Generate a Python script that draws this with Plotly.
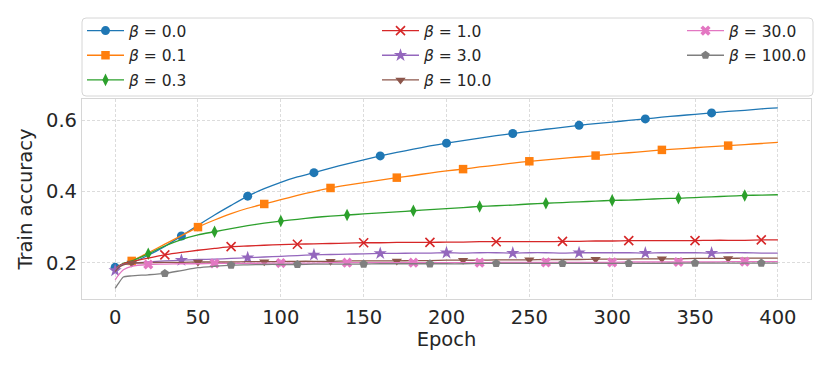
import plotly.graph_objects as go

epochs = [0, 2, 5] + list(range(10, 401, 10))

betas = ["0.0", "0.1", "0.3", "1.0", "3.0", "10.0", "30.0", "100.0"]

acc_b0 = [0.187, 0.190, 0.195, 0.200, 0.221, 0.246, 0.275, 0.305, 0.334, 0.361, 0.387,
          0.408, 0.426, 0.441, 0.453, 0.466, 0.478, 0.489, 0.500, 0.510, 0.519, 0.528,
          0.536, 0.543, 0.550, 0.557, 0.563, 0.569, 0.575, 0.580, 0.586, 0.591, 0.595,
          0.600, 0.604, 0.609, 0.613, 0.617, 0.621, 0.625, 0.628, 0.632, 0.635]
acc_b01 = [0.183, 0.190, 0.197, 0.205, 0.228, 0.252, 0.276, 0.300, 0.320, 0.338, 0.353,
           0.365, 0.377, 0.389, 0.400, 0.410, 0.418, 0.425, 0.432, 0.439, 0.445, 0.452,
           0.458, 0.463, 0.469, 0.474, 0.480, 0.485, 0.489, 0.493, 0.497, 0.501, 0.505,
           0.509, 0.513, 0.517, 0.520, 0.523, 0.526, 0.529, 0.532, 0.535, 0.538]
acc_b03 = [0.180, 0.190, 0.198, 0.205, 0.225, 0.247, 0.265, 0.278, 0.287, 0.296, 0.304,
           0.311, 0.317, 0.322, 0.327, 0.331, 0.334, 0.337, 0.340, 0.343, 0.346, 0.349,
           0.352, 0.355, 0.358, 0.360, 0.362, 0.365, 0.367, 0.369, 0.371, 0.373, 0.375,
           0.376, 0.378, 0.380, 0.381, 0.383, 0.385, 0.387, 0.389, 0.390, 0.391]
acc_b1 = [0.180, 0.190, 0.197, 0.203, 0.213, 0.222, 0.229, 0.235, 0.240, 0.245, 0.247,
          0.249, 0.251, 0.252, 0.253, 0.254, 0.255, 0.256, 0.256, 0.257, 0.257, 0.257,
          0.258, 0.258, 0.259, 0.259, 0.259, 0.259, 0.259, 0.260, 0.260, 0.261, 0.261,
          0.262, 0.262, 0.262, 0.262, 0.262, 0.263, 0.263, 0.263, 0.264, 0.264]
acc_b3 = [0.178, 0.188, 0.195, 0.198, 0.202, 0.205, 0.207, 0.209, 0.210, 0.212, 0.214,
          0.216, 0.218, 0.220, 0.222, 0.223, 0.224, 0.225, 0.226, 0.226, 0.227, 0.227,
          0.228, 0.227, 0.228, 0.228, 0.227, 0.228, 0.228, 0.227, 0.228, 0.228, 0.228,
          0.228, 0.227, 0.228, 0.228, 0.228, 0.227, 0.228, 0.228, 0.227, 0.227]
acc_b10 = [0.175, 0.186, 0.194, 0.199, 0.200, 0.201, 0.201, 0.202, 0.202, 0.202, 0.203,
           0.203, 0.203, 0.204, 0.204, 0.204, 0.205, 0.205, 0.205, 0.205, 0.206, 0.206,
           0.207, 0.207, 0.207, 0.208, 0.208, 0.208, 0.209, 0.209, 0.209, 0.210, 0.210,
           0.210, 0.211, 0.211, 0.211, 0.212, 0.212, 0.212, 0.213, 0.213, 0.213]
acc_b30 = [0.152, 0.165, 0.180, 0.190, 0.195, 0.196, 0.197, 0.197, 0.198, 0.198, 0.198,
           0.199, 0.199, 0.199, 0.199, 0.200, 0.200, 0.200, 0.200, 0.200, 0.200, 0.200,
           0.200, 0.200, 0.200, 0.201, 0.201, 0.201, 0.201, 0.201, 0.201, 0.201, 0.201,
           0.202, 0.202, 0.202, 0.202, 0.202, 0.202, 0.203, 0.203, 0.203, 0.203]
acc_b100 = [0.128, 0.142, 0.160, 0.163, 0.166, 0.170, 0.178, 0.186, 0.190, 0.193, 0.194,
            0.195, 0.195, 0.195, 0.196, 0.196, 0.196, 0.196, 0.197, 0.197, 0.197, 0.197,
            0.197, 0.197, 0.198, 0.198, 0.198, 0.198, 0.198, 0.198, 0.198, 0.198, 0.198,
            0.198, 0.198, 0.198, 0.199, 0.199, 0.199, 0.199, 0.199, 0.199, 0.199]

series = [acc_b0, acc_b01, acc_b03, acc_b1, acc_b3, acc_b10, acc_b30, acc_b100]

colors = ["#1f77b4", "#ff7f0e", "#2ca02c", "#d62728",
          "#9467bd", "#8c564b", "#e377c2", "#7f7f7f"]
symbols = ["circle", "square", "diamond-tall", "x-thin",
           "star", "triangle-down", "x", "pentagon"]
sizes = [9, 8.5, 9, 9, 10, 9, 9, 9]
# which legend column each entry goes in (matplotlib ncol=3, filled column-wise)
legend_cols = ["legend", "legend", "legend", "legend2", "legend2", "legend2", "legend3", "legend3"]

fig = go.Figure()

for i, (b, ys) in enumerate(zip(betas, series)):
    name = f"<i>β</i> = {b}"
    grp = f"g{i}"
    marker = dict(symbol=symbols[i], size=sizes[i], color=colors[i],
                  line=dict(width=1.6 if symbols[i] == "x-thin" else 0, color=colors[i]))

    fig.add_trace(go.Scatter(x=epochs, y=ys, mode="lines", line=dict(color=colors[i], width=1.3, shape="spline", smoothing=0.6),
                             legendgroup=grp, showlegend=False, hoverinfo="skip"))

    # markevery=(offset, 40)
    offset = (i % 4) * 10
    mk_ep = list(range(offset, 400, 40))
    mk_y = [ys[epochs.index(e)] for e in mk_ep]
    fig.add_trace(go.Scatter(x=mk_ep, y=mk_y, mode="markers", marker=marker,
                             legendgroup=grp, showlegend=False, name=name))

    # legend entry
    fig.add_trace(go.Scatter(x=[None], y=[None], mode="lines+markers", name=name,
                             line=dict(color=colors[i], width=1.3), marker=marker,
                             legendgroup=grp, legend=legend_cols[i]))

font = "DejaVu Sans, Verdana, sans-serif"
ink = "#262626"

# the page body adds an 8px offset; positions below are in screenshot px
OFF = 8
L, R, T, B = 82 - OFF, 811 - OFF, 99 - OFF, 299 - OFF

def px_x(p):
    return (p - OFF - L) / (R - L)

def px_y(p):
    return (B - (p - OFF)) / (B - T)

# legend frame with rounded corners (like matplotlib fancybox)
bx0, bx1, by0, by1, rad = 82, 813, 18, 96, 4
rx, ry = rad / (R - L), rad / (B - T)
X0, X1, Yt, Yb = px_x(bx0), px_x(bx1), px_y(by0), px_y(by1)
frame = (f"M{X0 + rx},{Yt} L{X1 - rx},{Yt} Q{X1},{Yt} {X1},{Yt - ry} "
         f"L{X1},{Yb + ry} Q{X1},{Yb} {X1 - rx},{Yb} L{X0 + rx},{Yb} "
         f"Q{X0},{Yb} {X0},{Yb + ry} L{X0},{Yt - ry} Q{X0},{Yt} {X0 + rx},{Yt} Z")

leg_common = dict(yanchor="top", xanchor="left", y=px_y(14), bgcolor="rgba(0,0,0,0)",
                  borderwidth=0, font=dict(size=15.5, family=font, color=ink),
                  traceorder="grouped", tracegroupgap=1.5, itemclick=False, itemwidth=37)

fig.update_layout(
    width=830, height=369,
    margin=dict(l=L, r=830 - R, t=T, b=369 - B, autoexpand=False),
    paper_bgcolor="white", plot_bgcolor="white",
    font=dict(family=font, color=ink),
    legend=dict(x=px_x(82), **leg_common),
    legend2=dict(x=px_x(377), **leg_common),
    legend3=dict(x=px_x(682), **leg_common),
    shapes=[dict(type="path", xref="paper", yref="paper", path=frame,
                 line=dict(color="#d6d6d6", width=1), fillcolor="rgba(255,255,255,0)", layer="below")],
)

fig.update_xaxes(
    range=[-20, 420], tickvals=list(range(0, 401, 50)), ticks="",
    showgrid=True, gridcolor="#dcdcdc", gridwidth=0.8, griddash="3px,2px",
    showline=True, mirror=True, linecolor="#d6d6d6", linewidth=1.2, zeroline=False,
    tickfont=dict(size=19.5, color=ink),
    title=dict(text="Epoch", font=dict(size=19.5, color=ink), standoff=3),
)
fig.update_yaxes(
    range=[0.098, 0.66], tickvals=[0.2, 0.4, 0.6], tickformat=".1f", ticks="",
    showgrid=True, gridcolor="#dcdcdc", gridwidth=0.8, griddash="3px,2px",
    showline=True, mirror=True, linecolor="#d6d6d6", linewidth=1.2, zeroline=False,
    tickfont=dict(size=19.5, color=ink),
    title=dict(text="Train accuracy", font=dict(size=19.5, color=ink), standoff=8),
)

fig.write_html("out.html")
